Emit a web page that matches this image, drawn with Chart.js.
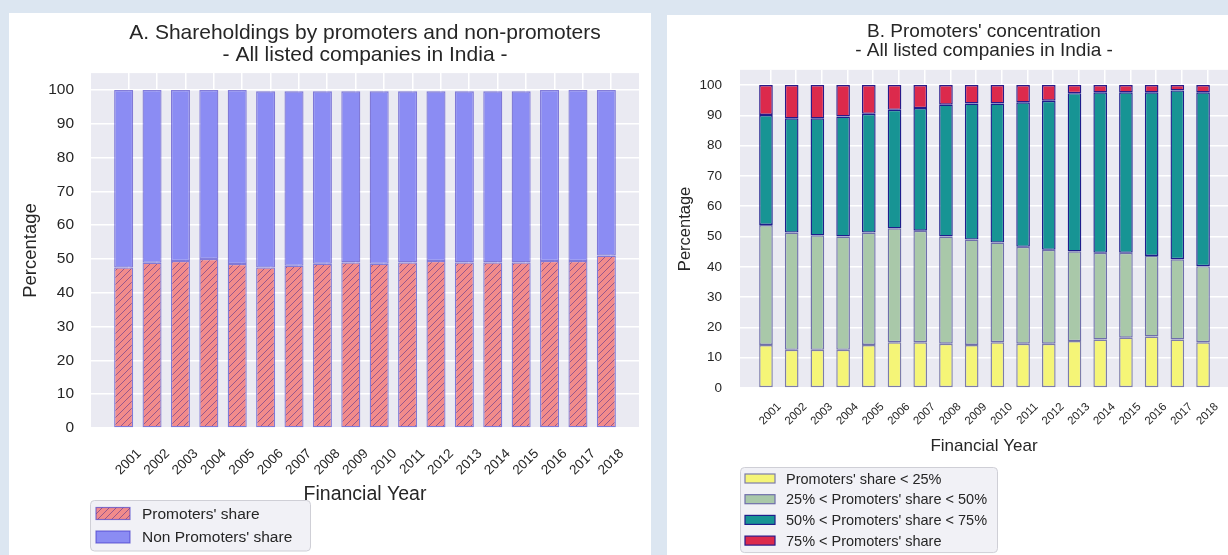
<!DOCTYPE html>
<html>
<head>
<meta charset="utf-8">
<script src="https://cdn.jsdelivr.net/npm/chart.js@4.4.0/dist/chart.umd.min.js"></script>
<style>
  html, body { margin: 0; padding: 0; width: 1228px; height: 555px; overflow: hidden; background: #dce6f1; }
  .panel { position: absolute; background: #ffffff; overflow: hidden; }
  #panelA { left: 9px; top: 13px; width: 642px; height: 542px; }
  #panelB { left: 667px; top: 15px; width: 561px; height: 540px; }
  canvas { display: block; }
</style>
</head>
<body>
<div class="panel" id="panelA"><canvas id="chartA" width="642" height="542"></canvas></div>
<div class="panel" id="panelB"><canvas id="chartB" width="561" height="540"></canvas></div>
<script>
// Financial years shown on both charts
const years = ['2001','2002','2003','2004','2005','2006','2007','2008','2009',
               '2010','2011','2012','2013','2014','2015','2016','2017','2018'];

// Chart A: promoters vs non-promoters share (%)
const promoterShare    = [47.5, 48.9, 49.4, 50.0, 48.5, 47.5, 48.0, 48.6, 49.0,
                          48.6, 49.0, 49.4, 49.0, 49.0, 49.0, 49.4, 49.4, 51.0];
const nonPromoterShare = [52.5, 51.1, 50.6, 50.0, 51.5, 52.1, 51.6, 51.0, 50.6,
                          51.0, 50.6, 50.2, 50.6, 50.6, 50.6, 50.6, 50.6, 49.0];

// Chart B: share of companies by promoters' holding band (%)
const below25    = [14.2, 12.6, 12.6, 12.6, 14.2, 15.1, 15.1, 14.6, 14.2,
                    15.1, 14.6, 14.6, 15.5, 16.0, 16.6, 17.0, 16.0, 15.1];
const from25to50 = [39.6, 38.7, 37.8, 37.4, 37.1, 37.6, 36.8, 35.4, 34.8,
                    32.9, 32.0, 31.0, 29.6, 28.6, 28.0, 26.6, 26.5, 25.1];
const from50to75 = [36.3, 37.7, 38.6, 39.6, 39.2, 39.1, 40.5, 43.5, 44.9,
                    45.9, 47.7, 49.2, 52.2, 53.0, 53.0, 54.0, 55.7, 57.4];
const above75    = [ 9.9, 11.0, 11.0, 10.4,  9.5,  8.2,  7.6,  6.5,  6.1,
                     6.1,  5.7,  5.2,  2.7,  2.4,  2.4,  2.4,  1.8,  2.4];

// Percentage axis ticks
const yTickValues = [0, 10, 20, 30, 40, 50, 60, 70, 80, 90, 100];

const FONT = "'Liberation Sans', Arial, sans-serif";
Chart.defaults.font.family = FONT;
Chart.defaults.color = '#262626';

// Hatched fill ("///") for the promoters' share bars
function hatchPattern() {
  const size = 7;
  const c = document.createElement('canvas');
  c.width = size; c.height = size;
  const g = c.getContext('2d');
  g.fillStyle = '#f28b8b';
  g.fillRect(0, 0, size, size);
  g.strokeStyle = 'rgba(120,70,140,0.75)';
  g.lineWidth = 1;
  g.beginPath();
  g.moveTo(-1, size + 1); g.lineTo(size + 1, -1);
  g.moveTo(-1, 1); g.lineTo(1, -1);
  g.moveTo(size - 1, size + 1); g.lineTo(size + 1, size - 1);
  g.stroke();
  return g.createPattern(c, 'repeat');
}

// Grey plotting area behind the grid
const plotBackground = {
  id: 'plotBackground',
  beforeDraw(chart) {
    const {ctx, chartArea: a} = chart;
    ctx.save();
    ctx.fillStyle = '#eaeaf2';
    ctx.fillRect(a.left, a.top, a.right - a.left, a.bottom - a.top);
    ctx.restore();
  }
};

// Year labels rotated 45 degrees, centred under each tick
const yearLabels = {
  id: 'yearLabels',
  afterDraw(chart, args, opts) {
    const {ctx} = chart;
    const xs = chart.scales.x;
    ctx.save();
    ctx.font = opts.size + 'px ' + FONT;
    ctx.fillStyle = '#262626';
    ctx.textAlign = 'center';
    ctx.textBaseline = 'middle';
    xs.ticks.forEach((t, i) => {
      const label = years[i];
      const w = ctx.measureText(label).width;
      const h = (w + opts.size * 0.72) * Math.SQRT1_2;
      const x = xs.getPixelForValue(t.value);
      const y = chart.chartArea.bottom + opts.gap + h / 2;
      ctx.save();
      ctx.translate(x, y);
      ctx.rotate(-Math.PI / 4);
      ctx.fillText(label, 0, 0);
      ctx.restore();
    });
    ctx.restore();
  }
};

// Framed legend listed in a single column under the axis title
const boxLegend = {
  id: 'boxLegend',
  afterDraw(chart, args, o) {
    const {ctx, chartArea: a} = chart;
    const left = a.left + o.dx;
    const top = a.bottom + o.dy;
    const n = chart.data.datasets.length;
    const height = o.firstRow * 2 + o.rowGap * (n - 1);
    ctx.save();
    ctx.beginPath();
    ctx.roundRect(left + 0.5, top + 0.5, o.width, height, 4);
    ctx.fillStyle = 'rgba(240,240,245,0.92)';
    ctx.fill();
    ctx.strokeStyle = '#cfcfd6';
    ctx.lineWidth = 1;
    ctx.stroke();
    ctx.font = o.size + 'px ' + FONT;
    ctx.textBaseline = 'middle';
    ctx.textAlign = 'left';
    chart.data.datasets.forEach((ds, i) => {
      const cy = top + o.firstRow + i * o.rowGap;
      ctx.fillStyle = ds.backgroundColor;
      ctx.fillRect(left + o.patchX, cy - o.patchH / 2, o.patchW, o.patchH);
      ctx.strokeStyle = ds.borderColor;
      ctx.lineWidth = 1.2;
      ctx.strokeRect(left + o.patchX, cy - o.patchH / 2, o.patchW, o.patchH);
      ctx.fillStyle = '#262626';
      ctx.fillText(ds.label, left + o.textX, cy + 1);
    });
    ctx.restore();
  }
};

function xyPoints(values) {
  return values.map((v, i) => ({x: i, y: v}));
}

function buildOptions(cfg) {
  return {
    responsive: false,
    animation: false,
    devicePixelRatio: 1,
    events: [],
    layout: { padding: cfg.padding },
    scales: {
      x: {
        type: 'linear',
        stacked: true,
        offset: false,
        min: cfg.xMin,
        max: cfg.xMax,
        afterBuildTicks: (s) => { s.ticks = years.map((_, i) => ({value: i + cfg.tickShift})); },
        afterFit: (s) => { s.height = cfg.xAxisHeight; },
        ticks: { display: false },
        grid: { color: '#ffffff', lineWidth: cfg.gridWidth, drawTicks: false, offset: false },
        border: { display: false },
        title: { display: true, text: 'Financial Year', font: { size: cfg.xTitleSize },
                 padding: { top: 0, bottom: 0 }, color: '#262626' }
      },
      y: {
        type: 'linear',
        stacked: true,
        min: 0,
        max: 105,
        afterBuildTicks: (s) => { s.ticks = yTickValues.map(v => ({value: v})); },
        afterFit: (s) => { s.width = cfg.yAxisWidth; },
        ticks: { font: { size: cfg.tickSize }, color: '#262626', padding: cfg.tickPad },
        grid: { color: '#ffffff', lineWidth: cfg.gridWidth, drawTicks: false },
        border: { display: false },
        title: { display: true, text: 'Percentage', font: { size: cfg.yTitleSize },
                 padding: { top: 0, bottom: 0 }, color: '#262626' }
      }
    },
    plugins: {
      legend: { display: false },
      tooltip: { enabled: false },
      title: {
        display: true,
        fullSize: false,
        text: cfg.title,
        color: '#262626',
        font: { size: cfg.titleSize, weight: 'normal', lineHeight: cfg.titleLineHeight },
        padding: { top: 0, bottom: cfg.titleGap }
      },
      yearLabels: { size: cfg.yearSize, gap: cfg.yearGap },
      boxLegend: cfg.legend
    }
  };
}

// Chart A
new Chart(document.getElementById('chartA'), {
  type: 'bar',
  data: {
    datasets: [
      { label: "Promoters' share", data: xyPoints(promoterShare),
        backgroundColor: hatchPattern(), borderColor: 'rgba(70,60,200,0.65)',
        borderWidth: 1.3, borderSkipped: false, barPercentage: 0.67, categoryPercentage: 1 },
      { label: "Non Promoters' share", data: xyPoints(nonPromoterShare),
        backgroundColor: '#8b8cf3', borderColor: 'rgba(70,60,200,0.65)',
        borderWidth: 1.3, borderSkipped: false, barPercentage: 0.67, categoryPercentage: 1 }
    ]
  },
  options: buildOptions({
    padding: { top: 9, left: 11, right: 12, bottom: 49 },
    xMin: -1.15, xMax: 18.15, tickShift: 0.17,
    xAxisHeight: 78, yAxisWidth: 71, gridWidth: 1.5,
    tickSize: 15.5, tickPad: 17, xTitleSize: 19.5, yTitleSize: 18.5,
    title: ['A. Shareholdings by promoters and non-promoters', '- All listed companies in India -'],
    titleSize: 21, titleLineHeight: 1.05, titleGap: 7,
    yearSize: 13.5, yearGap: 20,
    legend: { dx: -1, dy: 72, width: 220, firstRow: 13.5, rowGap: 23.5,
              patchX: 6, patchW: 34, patchH: 12, textX: 52, size: 15.5 }
  }),
  plugins: [plotBackground, yearLabels, boxLegend]
});

// Chart B
new Chart(document.getElementById('chartB'), {
  type: 'bar',
  data: {
    datasets: [
      { label: "Promoters' share < 25%", data: xyPoints(below25),
        backgroundColor: '#f5f577', borderColor: '#7d7daa' },
      { label: "25% < Promoters' share < 50%", data: xyPoints(from25to50),
        backgroundColor: '#a9c8a9', borderColor: '#6f6fab' },
      { label: "50% < Promoters' share < 75%", data: xyPoints(from50to75),
        backgroundColor: '#179494', borderColor: '#1e1e8c' },
      { label: "75% < Promoters' share", data: xyPoints(above75),
        backgroundColor: '#dc2a4c', borderColor: '#2a1a8a' }
    ].map(d => Object.assign(d, { borderWidth: 1.4, borderSkipped: false,
                                  barPercentage: 0.53, categoryPercentage: 1 }))
  },
  options: buildOptions({
    padding: { top: 8, left: 9, right: 0, bottom: 98 },
    xMin: -1.01, xMax: 17.97, tickShift: 0.17,
    xAxisHeight: 69, yAxisWidth: 64, gridWidth: 1.5,
    tickSize: 13.5, tickPad: 18, xTitleSize: 17, yTitleSize: 16.5,
    title: ["B. Promoters' concentration", '- All listed companies in India -'],
    titleSize: 19, titleLineHeight: 0.97, titleGap: 10,
    yearSize: 11.5, yearGap: 14,
    legend: { dx: 0, dy: 79, width: 257, firstRow: 11.5, rowGap: 20.7,
              patchX: 5, patchW: 30, patchH: 9, textX: 46, size: 14.5 }
  }),
  plugins: [plotBackground, yearLabels, boxLegend]
});
</script>
</body>
</html>
